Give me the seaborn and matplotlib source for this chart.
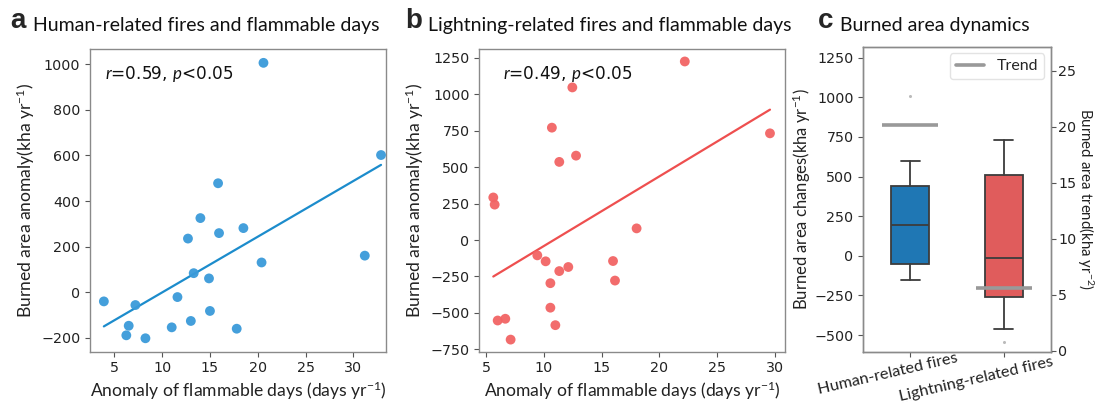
import numpy as np
import pandas as pd
import matplotlib
matplotlib.use("Agg")
import matplotlib.pyplot as plt
import matplotlib.transforms as mtransforms
from matplotlib.lines import Line2D
import seaborn as sns

# ---------------- data ----------------
human_days = [20.6, 32.9, 31.2, 15.85, 14.0, 12.7, 15.95, 18.5, 20.4, 13.3, 14.9,
              3.9, 7.2, 11.6, 15.0, 13.0, 11.0, 6.5, 6.25, 8.25, 17.8]
human_area = [1007, 602, 160, 478, 325, 235, 259, 281, 130, 83, 60,
              -41, -57, -22, -83, -127, -155, -148, -190, -203, -161]

light_days = [22.2, 12.47, 10.7, 11.34, 12.79, 29.57, 5.63, 5.75, 18.03, 9.44, 10.16,
              11.34, 12.12, 10.57, 15.99, 16.16, 10.57, 11.0, 6.01, 6.67, 7.13]
light_area = [1225, 1047, 771, 536, 579, 732, 292, 243, 80, -105, -146,
              -213, -185, -296, -144, -278, -464, -584, -552, -540, -683]

box_categories = ["Human-related fires", "Lightning-related fires"]
box_whislo = [-155, -460]
box_q1 = [-49, -259]
box_med = [195, -11]
box_q3 = [439, 509]
box_whishi = [600, 732]
box_fliers = [[1007], [-545]]
trend_values = [20.1, 5.6]

titles = ["Human-related fires and flammable days",
          "Lightning-related fires and flammable days",
          "Burned area dynamics"]
stats_text = [r"$\it{r}$=0.59, $\it{p}$<0.05", r"$\it{r}$=0.49, $\it{p}$<0.05"]

# ---------------- style ----------------
sns.set_style("ticks")
plt.rcParams["font.family"] = ["DejaVu Sans"]
plt.rcParams["mathtext.fontset"] = "custom"
plt.rcParams["mathtext.rm"] = "Lato"
plt.rcParams["mathtext.it"] = "Lato:italic"
plt.rcParams["mathtext.bf"] = "Lato:bold"
plt.rcParams["axes.edgecolor"] = "#8a8a8a"
plt.rcParams["axes.linewidth"] = 1.0
plt.rcParams["xtick.color"] = "#555555"
plt.rcParams["ytick.color"] = "#555555"
plt.rcParams["xtick.labelcolor"] = "#222222"
plt.rcParams["ytick.labelcolor"] = "#222222"
plt.rcParams["xtick.major.size"] = 3.5
plt.rcParams["ytick.major.size"] = 3.5

TICK_FS = 10.3
XLAB_FS = 12.6
YLAB_FS = 12.6
LAB_FONT = "Lato"

fig = plt.figure(figsize=(10.95, 4.04), dpi=100)
W, H = 1095, 404

def box(l, r, t, b):
    return [l / W, 1 - b / H, (r - l) / W, (b - t) / H]

ax_a = fig.add_axes(box(90, 386, 48.5, 351.7))
ax_b = fig.add_axes(box(479.3, 785, 48.5, 351.7))
ax_c = fig.add_axes(box(863.3, 1050.7, 47, 351.7))

blue_pt = "#3a9ad9"
blue_ln = "#1c8ccc"
red_pt = "#f26464"
red_ln = "#ee4f4f"

df_a = pd.DataFrame({"days": human_days, "area": human_area})
df_b = pd.DataFrame({"days": light_days, "area": light_area})

for ax, df, cpt, cln in [(ax_a, df_a, blue_pt, blue_ln), (ax_b, df_b, red_pt, red_ln)]:
    sns.regplot(data=df, x="days", y="area", ax=ax, ci=None, truncate=True,
                scatter_kws=dict(s=50, color=cpt, alpha=0.95, edgecolors="none", zorder=3),
                line_kws=dict(color=cln, lw=1.6, zorder=2))
    ax.set_xlabel("Anomaly of flammable days (days yr$^{-1}$)", fontsize=XLAB_FS,
                  family=LAB_FONT, color="#222222", labelpad=3)
    ax.set_ylabel("Burned area anomaly(kha yr$^{-1}$)", fontsize=YLAB_FS,
                  family=LAB_FONT, color="#222222", labelpad=3)
    ax.tick_params(labelsize=TICK_FS)

ax_a.set_xlim(2.45, 33.42)
ax_a.set_ylim(-262, 1070)
ax_a.set_xticks([5, 10, 15, 20, 25, 30])
ax_a.set_yticks([-200, 0, 200, 400, 600, 800, 1000])
ax_b.set_xlim(4.42, 30.87)
ax_b.set_ylim(-766, 1314)
ax_b.set_xticks([5, 10, 15, 20, 25, 30])
ax_b.set_yticks([-750, -500, -250, 0, 250, 500, 750, 1000, 1250])

ax_a.text(0.05, 0.915, stats_text[0], transform=ax_a.transAxes, fontsize=12.2,
          va="center", ha="left", color="#111111")
ax_b.text(0.077, 0.917, stats_text[1], transform=ax_b.transAxes, fontsize=12.2,
          va="center", ha="left", color="#111111")

# ---------------- panel c ----------------
stats = []
for i in range(2):
    stats.append(dict(label=box_categories[i], whislo=box_whislo[i], q1=box_q1[i],
                      med=box_med[i], q3=box_q3[i], whishi=box_whishi[i],
                      fliers=box_fliers[i]))
positions = np.arange(len(box_categories))
edge = "#3c3c3c"
bp = ax_c.bxp(stats, positions=positions, widths=0.4, patch_artist=True,
              boxprops=dict(edgecolor=edge, linewidth=1.3),
              medianprops=dict(color=edge, linewidth=1.3),
              whiskerprops=dict(color=edge, linewidth=1.3),
              capprops=dict(color=edge, linewidth=1.3),
              flierprops=dict(marker="o", markersize=1.2, markerfacecolor="#bbbbbb",
                              markeredgecolor="#bbbbbb"))
for patch, col in zip(bp["boxes"], ["#1f77b4", "#e05c5c"]):
    patch.set_facecolor(col)
ax_c.set_xlim(-0.5, 1.5)
ax_c.set_ylim(-605, 1317)
ax_c.set_yticks([-500, -250, 0, 250, 500, 750, 1000, 1250])
ax_c.tick_params(labelsize=TICK_FS)
ax_c.set_xticks(positions)
ax_c.set_xticklabels(box_categories, rotation=13, ha="center", va="top",
                     rotation_mode="anchor", fontsize=11.7, family=LAB_FONT)
shifts = [(-24, -6), (-29, -11)]
for lab, (dx, dy) in zip(ax_c.get_xticklabels(), shifts):
    off = mtransforms.ScaledTranslation(dx / 100, dy / 100, fig.dpi_scale_trans)
    lab.set_transform(lab.get_transform() + off)
ax_c.set_ylabel("Burned area changes(kha yr$^{-1}$)", fontsize=12,
                family=LAB_FONT, color="#222222", labelpad=1)

ax_c2 = ax_c.twinx()
ax_c2.set_ylim(-0.1, 27.1)
ax_c2.set_yticks([0, 5, 10, 15, 20, 25])
ax_c2.tick_params(labelsize=TICK_FS, pad=2)
ax_c2.hlines(trend_values, positions - 0.3, positions + 0.3, color="#999999", lw=2.6,
             zorder=5)
ax_c2.set_ylabel("Burned area trend(kha yr$^{-2}$)", fontsize=10.8, family=LAB_FONT,
                 color="#222222", rotation=270, va="center", ha="center",
                 rotation_mode="anchor")
ax_c2.yaxis.set_label_coords(1.184, 0.5)
for sp in ax_c2.spines.values():
    sp.set_color("#8a8a8a")
leg = ax_c2.legend(handles=[Line2D([0], [0], color="#999999", lw=2.6)], labels=["Trend"],
                   loc="upper right", prop=dict(family=LAB_FONT, size=11.5), frameon=True,
                   handlelength=1.8, handletextpad=0.8, borderpad=0.35,
                   borderaxespad=0.4, fancybox=True)
leg.get_frame().set_edgecolor("#dddddd")

# ---------------- titles ----------------
for letter, lx, tx, title in [("a", 10, 33, titles[0]), ("b", 405, 428, titles[1]),
                              ("c", 818, 840, titles[2])]:
    fig.text(lx / W, 1 - 21 / H, letter, fontsize=20, fontweight="bold",
             family="Liberation Sans", va="center", ha="left")
    fig.text(tx / W, 1 - 25 / H, title, fontsize=14, family=LAB_FONT, va="center",
             ha="left", color="#111111")

fig.savefig("out.png", dpi=100)
